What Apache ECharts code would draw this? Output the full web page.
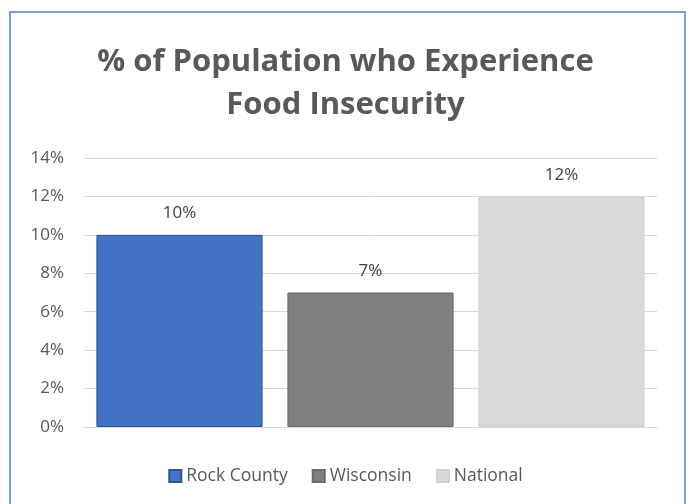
<!DOCTYPE html>
<html lang="en">
<head>
    <meta charset="UTF-8">
    <title>Food Insecurity</title>
    <script src="https://cdn.jsdelivr.net/npm/echarts@6/dist/echarts.min.js"></script>
    <style>
        html, body { margin: 0; padding: 0; background: #fff; }
    </style>
</head>
<body>
<div id="main" style="width: 691px;height:504px;"></div>
<script type="text/javascript">
    // data
    var regions = ['Rock County', 'Wisconsin', 'National'];
    var rates = [10, 7, 12];
    var colors = ['#4472C4', '#7F7F7F', '#D9D9D9'];
    var borders = ['#2F528F', '#6A6A6A', '#D0D0D0'];
    var yTicks = [0, 2, 4, 6, 8, 10, 12, 14];

    var myChart = echarts.init(document.getElementById('main'));

    // one series per region so the legend lists them, stacked to keep one bar per slot
    var series = regions.map(function (name, i) {
        var d = regions.map(function (r, j) { return j === i ? rates[i] : '-'; });
        return {
            name: name,
            type: 'bar',
            stack: 'all',
            barCategoryGap: '13%',
            data: d,
            itemStyle: { color: colors[i], borderColor: borders[i], borderWidth: 1 },
            label: {
                show: true,
                position: 'top',
                distance: 13,
                formatter: '{c}%',
                color: '#404040',
                fontSize: 17,
                fontFamily: 'Open Sans'
            }
        };
    });

    var option = {
        animation: false,
        title: {
            text: '% of Population who Experience\nFood Insecurity',
            left: 'center',
            top: 36,
            textStyle: {
                color: '#595959',
                fontSize: 31,
                fontWeight: 'bold',
                fontFamily: 'Open Sans',
                lineHeight: 43
            }
        },
        legend: {
            data: regions,
            bottom: 14,
            left: 'center',
            icon: 'rect',
            itemWidth: 12,
            itemHeight: 12,
            itemGap: 24,
            textStyle: { color: '#595959', fontSize: 17.5, fontFamily: 'Open Sans' }
        },
        grid: { left: 84, right: 34, top: 158, bottom: 77 },
        xAxis: {
            type: 'category',
            data: regions,
            axisTick: { show: false },
            axisLabel: { show: false },
            axisLine: { lineStyle: { color: '#D9D9D9', width: 1 } }
        },
        yAxis: {
            type: 'value',
            min: yTicks[0],
            max: yTicks[yTicks.length - 1],
            interval: 2,
            axisLine: { show: false },
            axisTick: { show: false },
            axisLabel: {
                formatter: '{value}%',
                color: '#595959',
                fontSize: 17,
                fontFamily: 'Open Sans',
                margin: 20
            },
            splitLine: { lineStyle: { color: '#D9D9D9', width: 1 } }
        },
        graphic: [{
            type: 'rect',
            shape: { x: 10, y: 12, width: 675, height: 500 },
            style: { fill: 'none', stroke: '#7BA0D6', lineWidth: 2 },
            silent: true
        }],
        series: series
    };

    myChart.setOption(option);
</script>
</body>
</html>
